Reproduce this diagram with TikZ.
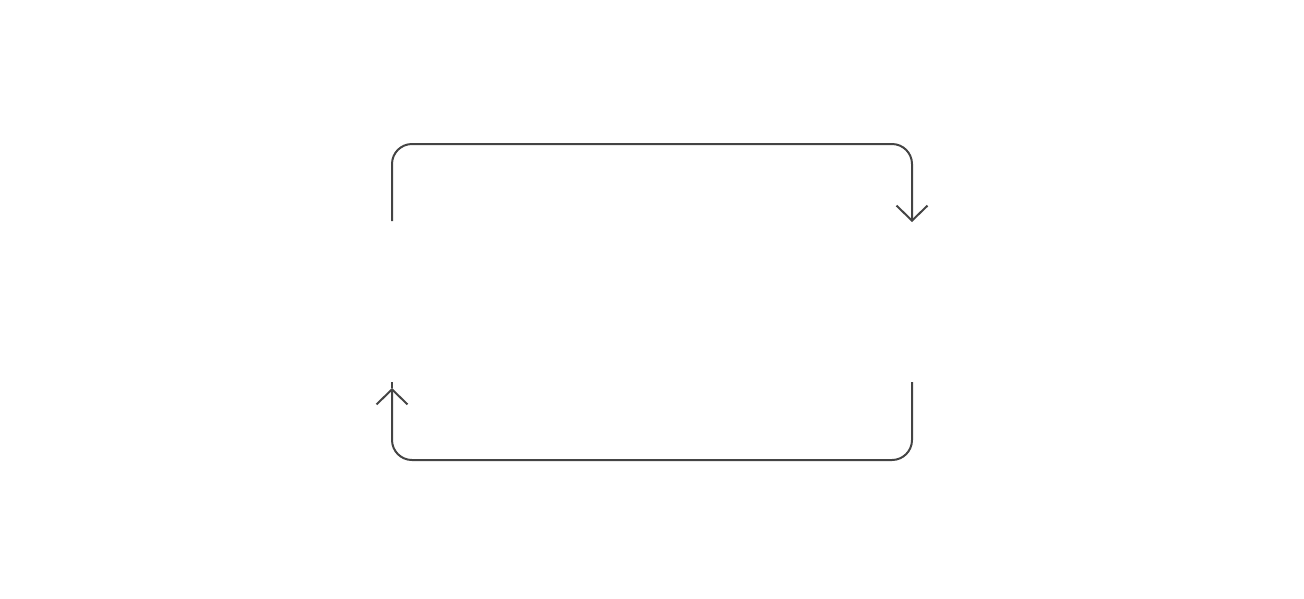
\documentclass[tikz,border=0pt]{standalone}
\usetikzlibrary{arrows.meta}
\definecolor{linegray}{HTML}{444444}
\tikzset{
  plainline/.style={draw=linegray, line width=2pt},
  loopline/.style={plainline, rounded corners=20pt,
    -{Straight Barb[length=15pt,width=31pt,line width=2pt]}}
}
\begin{document}
\begin{tikzpicture}[x=1pt,y=-1pt]
\useasboundingbox (0,0) rectangle (1304,598);
\coordinate (tl) at (392,221);
\coordinate (tr) at (912,222);
\coordinate (br) at (912,382);
\coordinate (bl) at (392,388);
\coordinate (blend) at (392,382);
\draw[loopline] (tl) -- (392,144) -- (912,144) -- (tr);
\draw[loopline] (br) -- (912,460) -- (392,460) -- (bl);
\draw[plainline] (bl) -- (blend);
\end{tikzpicture}
\end{document}
